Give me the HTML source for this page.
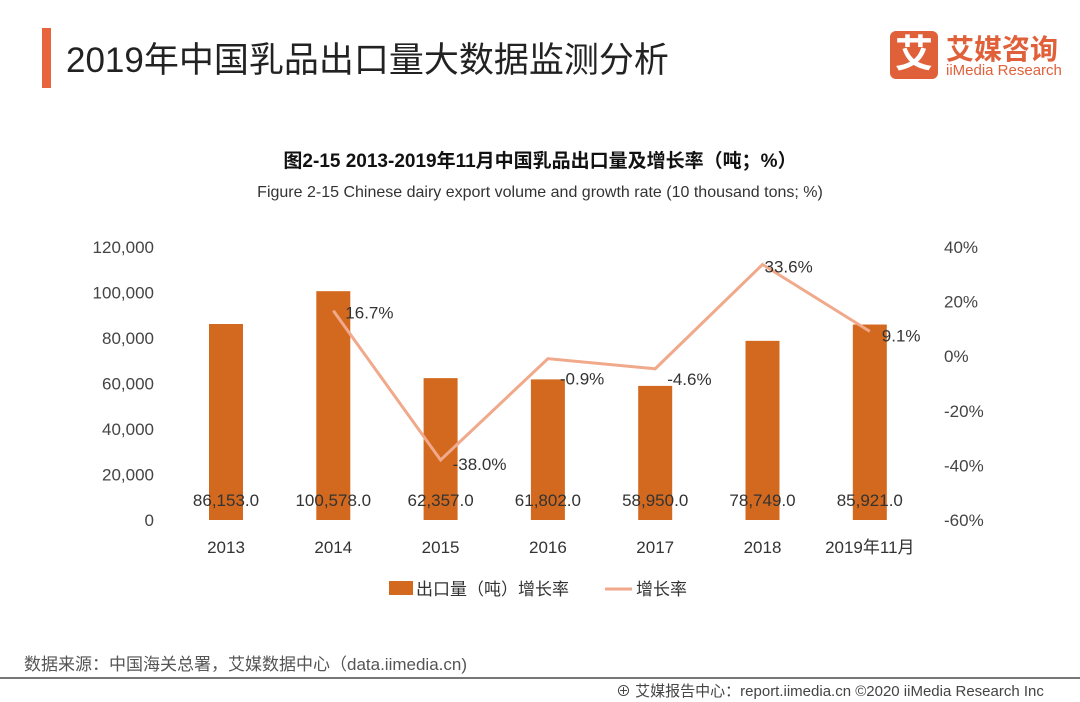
<!DOCTYPE html>
<html><head><meta charset="utf-8"><style>
body{margin:0;width:1080px;height:702px;background:#fff;position:relative;overflow:hidden;font-family:"Liberation Sans","Noto Sans CJK SC",sans-serif}
.a{position:absolute;white-space:nowrap}
</style></head><body>
<div class="a" style="left:42px;top:28px;width:9px;height:60px;background:#e8643c"></div>
<div class="a" style="left:66px;top:32px;font-size:35px;color:#222">2019年中国乳品出口量大数据监测分析</div>
<div class="a" style="left:890px;top:31px;width:48px;height:48px;background:#e0603a;border-radius:6px;color:#fff;font-size:38px;line-height:48px;text-align:center;font-weight:bold">艾</div>
<div class="a" style="left:946px;top:28px;font-size:28px;color:#e0603a;font-weight:bold">艾媒咨询</div>
<div class="a" style="left:946px;top:62px;font-size:15px;color:#e0603a">iiMedia Research</div>
<div class="a" style="left:0;width:1080px;text-align:center;top:146px;font-size:19px;font-weight:bold;color:#111">图2-15 2013-2019年11月中国乳品出口量及增长率（吨；%）</div>
<div class="a" style="left:0;width:1080px;text-align:center;top:184px;font-size:16px;color:#333">Figure 2-15 Chinese dairy export volume and growth rate (10 thousand tons; %)</div>
<svg class="a" style="left:0;top:0" width="1080" height="702" id="chart"></svg>
<div class="a" style="left:24px;top:650px;font-size:17px;color:#555">数据来源：中国海关总署，艾媒数据中心（data.iimedia.cn)</div>
<div class="a" style="left:0;top:677px;width:1080px;height:2px;background:#777"></div>
<div class="a" style="left:616px;top:680px;font-size:15px;color:#444">⊕ 艾媒报告中心：report.iimedia.cn  ©2020  iiMedia Research Inc</div>
<script>
const categories=["2013","2014","2015","2016","2017","2018","2019年11月"];
const volumes=[86153,100578,62357,61802,58950,78749,85921];
const growth=[null,16.7,-38.0,-0.9,-4.6,33.6,9.1];
const leftTicks=[0,20000,40000,60000,80000,100000,120000];
const rightTicks=[-60,-40,-20,0,20,40];
const svg=document.getElementById('chart');const NS='http://www.w3.org/2000/svg';
function yL(v){return 520-v/120000*273}
function yR(v){return 520-(v+60)/100*273}
function xC(i){return 226+i*107.3}
function mk(t,a,txt){const e=document.createElementNS(NS,t);for(const k in a)e.setAttribute(k,a[k]);if(txt!=null)e.textContent=txt;svg.appendChild(e);return e}
leftTicks.forEach(v=>{const e=mk('text',{x:154,y:yL(v)+6,'text-anchor':'end','font-size':17,fill:'#444'},v.toLocaleString('en-US'));

});
rightTicks.forEach(v=>{const e=mk('text',{x:944,y:yR(v)+6,'font-size':17,fill:'#444'},v+'%');

});
categories.forEach((c,i)=>{
const b=mk('rect',{x:xC(i)-17,y:yL(volumes[i]),width:34,height:520-yL(volumes[i]),fill:'#d2691e'});


const t=mk('text',{x:xC(i),y:553,'text-anchor':'middle','font-size':17,fill:'#333'},c);


const l=mk('text',{x:xC(i),y:506,'text-anchor':'middle','font-size':17,fill:'#333'},volumes[i].toLocaleString('en-US')+'.0');


});
let pts=[];growth.forEach((g,i)=>{if(g!=null)pts.push(xC(i)+','+yR(g))});
const pl=mk('polyline',{points:pts.join(' '),fill:'none',stroke:'#f0a98a','stroke-width':3});


const dx=[0,12,12,12,12,2,12], dy=[0,8,10,26,16,8,10];
growth.forEach((g,i)=>{if(g==null)return;
const t=mk('text',{x:xC(i)+dx[i],y:yR(g)+dy[i],'font-size':17,fill:'#333'},g.toFixed(1)+'%');

});
const lr=mk('rect',{x:389,y:581,width:24,height:14,fill:'#d2691e'});


const lt=mk('text',{x:416,y:595,'font-size':17,fill:'#333'},'出口量（吨）增长率');


const ll=mk('line',{x1:605,y1:589,x2:632,y2:589,stroke:'#f0a98a','stroke-width':3});


const lt2=mk('text',{x:636,y:595,'font-size':17,fill:'#333'},'增长率');


</script>
</body></html>
